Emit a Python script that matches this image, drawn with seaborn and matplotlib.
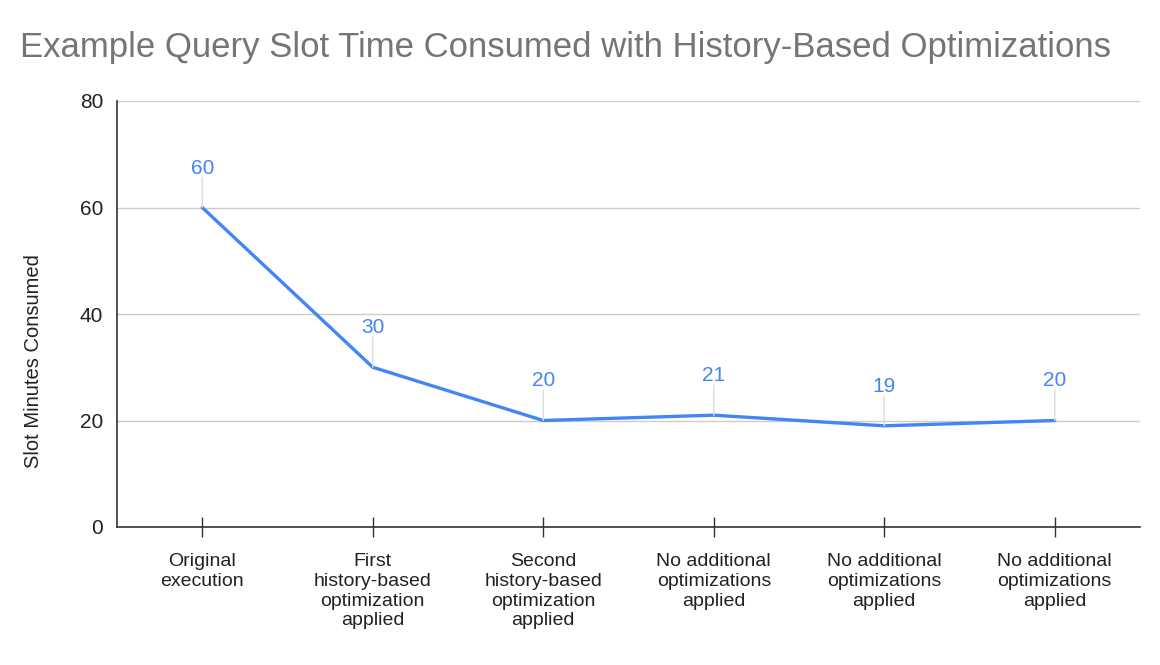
import numpy as np
import pandas as pd
import matplotlib
matplotlib.use("Agg")
import matplotlib.pyplot as plt
import seaborn as sns

etapas = ["Original\nexecution",
          "First\nhistory-based\noptimization\napplied",
          "Second\nhistory-based\noptimization\napplied",
          "No additional\noptimizations\napplied",
          "No additional\noptimizations\napplied",
          "No additional\noptimizations\napplied"]
minutos = [60, 30, 20, 21, 19, 20]

sns.set_theme(style="white")
plt.rcParams['font.family'] = ['Liberation Sans', 'DejaVu Sans']

df = pd.DataFrame({"pos": np.arange(len(minutos)), "min": minutos})

fig = plt.figure(figsize=(11.6, 6.65), dpi=100)
ax = fig.add_axes([117/1160, 1-527/665, (1140-117)/1160, (527-101)/665])

azul = "#4285F4"
sns.lineplot(data=df, x="pos", y="min", ax=ax, color=azul, linewidth=2.4)

# etiquetas con linea guia
for x, y in zip(df["pos"], df["min"]):
    ax.annotate("", xy=(x, y), xytext=(0, 30), textcoords="offset pixels",
                arrowprops=dict(arrowstyle="-", color="#dddddd", lw=1, shrinkA=0, shrinkB=0))
    ax.annotate(str(y), xy=(x, y), xytext=(0, 30), textcoords="offset pixels",
                ha="center", va="bottom", color=azul, fontsize=15)

ax.set_xlim(-0.5, len(minutos) - 0.5)
ax.set_ylim(0, 80)
ax.set_yticks([0, 20, 40, 60, 80])
ax.set_xticks(df["pos"])
ax.set_xticklabels(etapas, fontsize=14, color="#222222", linespacing=1.2)
ax.tick_params(axis="y", labelsize=15, labelcolor="#222222", length=0, pad=10)
ax.tick_params(axis="x", direction="inout", length=14, width=1, color="#333333", pad=12, bottom=True)
ax.grid(axis="y", color="#cccccc", linewidth=1)
ax.set_axisbelow(True)
for s in ["top", "right"]:
    ax.spines[s].set_visible(False)
for s in ["left", "bottom"]:
    ax.spines[s].set_color("#333333")
    ax.spines[s].set_linewidth(1.2)
ax.set_xlabel("")
ax.set_ylabel("Slot Minutes Consumed", fontsize=14.5, color="#222222")
ax.yaxis.set_label_coords(-0.072, 0.39)

fig.text(20/1160, 1-47/665, "Example Query Slot Time Consumed with History-Based Optimizations",
         fontsize=25, color="#757575", va="center", ha="left")

fig.savefig("out.png", dpi=100)
